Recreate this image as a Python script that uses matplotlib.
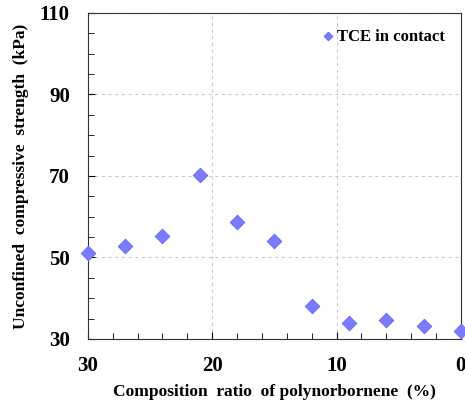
import numpy as np
import matplotlib
matplotlib.use('Agg')
import matplotlib.pyplot as plt
from matplotlib.ticker import MultipleLocator

# Data
ratio = [30, 27, 24, 21, 18, 15, 12, 9, 6, 3, 0]
strength = [51.1, 52.8, 55.3, 70.2, 58.7, 54.0, 38.1, 33.9, 34.7, 33.2, 32.0]
x_ticks = [30, 20, 10, 0]
y_ticks = [30, 50, 70, 90, 110]

plt.rcParams['font.family'] = ['Liberation Serif', 'DejaVu Serif']
plt.rcParams['font.weight'] = 'bold'

fig = plt.figure(figsize=(4.65, 4.05), dpi=100)
ax = fig.add_axes([0.189, 0.163, 0.802, 0.805])

ax.scatter(ratio, strength, marker='D', s=55, color='#7b7bff',
           edgecolor='#6262f0', linewidth=0.6, label='TCE in contact', zorder=3,
           clip_on=False)

ax.set_xlim(30, 0)
ax.set_ylim(30, 110)
ax.set_xticks(x_ticks)
ax.set_yticks(y_ticks)
ax.xaxis.set_minor_locator(MultipleLocator(2))
ax.yaxis.set_minor_locator(MultipleLocator(5))
ax.tick_params(which='both', direction='in', top=False, right=False)
ax.tick_params(which='major', length=5, labelsize=15)
ax.tick_params(axis='x', which='major', pad=12)
ax.tick_params(axis='y', which='major', pad=13)
ax.tick_params(which='minor', length=4)
for lab in ax.get_xticklabels() + ax.get_yticklabels():
    lab.set_fontweight('bold')

ax.grid(True, which='major', color='#cccccc', linestyle='--', linewidth=0.8, dashes=(3, 3))
ax.set_axisbelow(True)
for sp in ax.spines.values():
    sp.set_color('#333333')
    sp.set_linewidth(0.8)

ax.set_xlabel('Composition  ratio  of polynorbornene  (%)', fontsize=12.5, fontweight='bold', labelpad=6)
ax.set_ylabel('Unconfined  compressive  strength  (kPa)', fontsize=12.5, fontweight='bold', labelpad=8)

ax.legend(loc='upper right', frameon=False, markerscale=0.6, handlelength=0.6,
          handletextpad=0.25, borderaxespad=0.55, prop={'weight': 'bold', 'size': 12})

fig.savefig('out.png', dpi=100)
